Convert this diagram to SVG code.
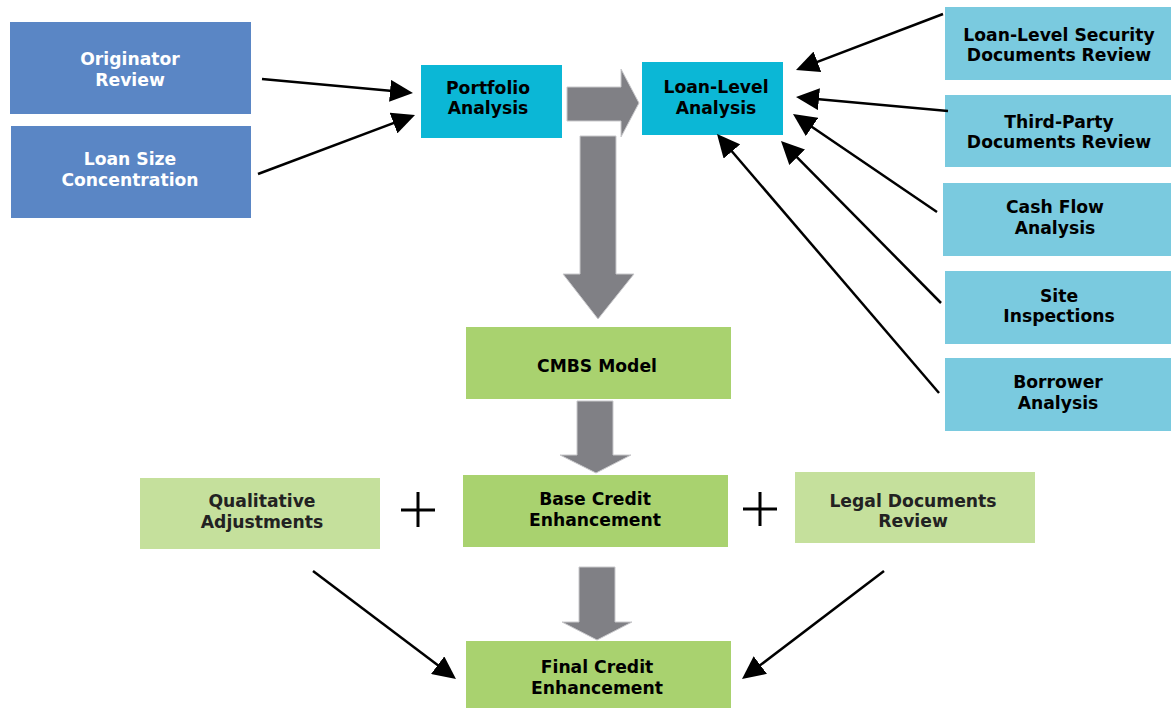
<svg xmlns="http://www.w3.org/2000/svg" width="1171" height="710" viewBox="0 0 1171 710">
<style>
text{font-family:"DejaVu Sans","Liberation Sans",sans-serif;font-weight:bold;font-size:17.2px;text-anchor:middle}
.blue{fill:#5A86C5}.cyan{fill:#0BB7D6}.lcyan{fill:#7ACADF}.green{fill:#A9D26F}.lgreen{fill:#C5E09C}
.wt{fill:#ffffff}.bt{fill:#000000}.dt{fill:#222222}
.conn{stroke:#000;stroke-width:2.5;fill:none;marker-end:url(#ah)}
.block{fill:#808085;stroke:#c9c9cc;stroke-width:1}
.plus{stroke:#000;stroke-width:3;fill:none}
</style>
<defs>
<marker id="ah" markerUnits="userSpaceOnUse" markerWidth="23" markerHeight="22" refX="19" refY="11" orient="auto">
<path d="M0,0 L23,11 L0,22 z" fill="#000"/>
</marker>
</defs>
<rect width="1171" height="710" fill="#ffffff"/>

<g id="originator-review"><rect class="blue" x="10" y="22" width="241" height="92"/><text class="wt" x="130" y="65">Originator</text><text class="wt" x="130" y="86">Review</text></g>
<g id="loan-size-concentration"><rect class="blue" x="11" y="126" width="240" height="92"/><text class="wt" x="130" y="165">Loan Size</text><text class="wt" x="130" y="186">Concentration</text></g>
<g id="portfolio-analysis"><rect class="cyan" x="421" y="65" width="141" height="73"/><text class="bt" x="488" y="94">Portfolio</text><text class="bt" x="488" y="114">Analysis</text></g>
<g id="loan-level-analysis"><rect class="cyan" x="642" y="62" width="141" height="73"/><text class="bt" x="716" y="93">Loan-Level</text><text class="bt" x="716" y="114">Analysis</text></g>
<g id="security-docs"><rect class="lcyan" x="945" y="7" width="226" height="73"/><text class="bt" x="1059" y="41">Loan-Level Security</text><text class="bt" x="1059" y="61">Documents Review</text></g>
<g id="third-party-docs"><rect class="lcyan" x="945" y="95" width="226" height="72"/><text class="bt" x="1059" y="128">Third-Party</text><text class="bt" x="1059" y="148">Documents Review</text></g>
<g id="cash-flow"><rect class="lcyan" x="943" y="183" width="228" height="73"/><text class="bt" x="1055" y="213">Cash Flow</text><text class="bt" x="1055" y="234">Analysis</text></g>
<g id="site-inspections"><rect class="lcyan" x="945" y="271" width="226" height="73"/><text class="bt" x="1059" y="302">Site</text><text class="bt" x="1059" y="322">Inspections</text></g>
<g id="borrower-analysis"><rect class="lcyan" x="945" y="358" width="226" height="73"/><text class="bt" x="1058" y="388">Borrower</text><text class="bt" x="1058" y="409">Analysis</text></g>
<g id="cmbs-model"><rect class="green" x="466" y="327" width="265" height="72"/><text class="bt" x="597" y="372">CMBS Model</text></g>
<g id="qualitative-adjustments"><rect class="lgreen" x="140" y="478" width="240" height="71"/><text class="dt" x="262" y="507">Qualitative</text><text class="dt" x="262" y="528">Adjustments</text></g>
<g id="base-credit-enhancement"><rect class="green" x="463" y="475" width="265" height="72"/><text class="bt" x="595" y="505">Base Credit</text><text class="bt" x="595" y="526">Enhancement</text></g>
<g id="legal-documents-review"><rect class="lgreen" x="795" y="472" width="240" height="71"/><text class="dt" x="913" y="507">Legal Documents</text><text class="dt" x="913" y="527">Review</text></g>
<g id="final-credit-enhancement"><rect class="green" x="466" y="641" width="265" height="67"/><text class="bt" x="597" y="673">Final Credit</text><text class="bt" x="597" y="694">Enhancement</text></g>

<g id="operators">
<path class="plus" d="M401,510 H435 M418,492 V527"/>
<path class="plus" d="M743,509 H777 M760,492 V526"/>
</g>

<g id="connectors">
<polygon class="block" points="567,87 621,87 621,69 639,103 621,137 621,121 567,121"/>
<polygon class="block" points="580,136 616,136 616,274 634,274 598,319 563,274 580,274"/>
<polygon class="block" points="577,401 613,401 613,455 631,455 596,473 560,455 577,455"/>
<polygon class="block" points="579,567 615,567 615,622 632,622 597,640 562,622 579,622"/>
<line class="conn" x1="262" y1="79" x2="409" y2="92.6"/>
<line class="conn" x1="258" y1="174" x2="411.3" y2="116.4"/>
<line class="conn" x1="943" y1="14" x2="799.7" y2="68.6"/>
<line class="conn" x1="948" y1="111" x2="800" y2="97.4"/>
<line class="conn" x1="937" y1="212" x2="796.3" y2="116.3"/>
<line class="conn" x1="941" y1="303" x2="783.8" y2="143.8"/>
<line class="conn" x1="939" y1="393" x2="719.6" y2="137"/>
<line class="conn" x1="313" y1="571" x2="452.8" y2="676.6"/>
<line class="conn" x1="884" y1="571" x2="745.2" y2="676.6"/>
</g>
</svg>
